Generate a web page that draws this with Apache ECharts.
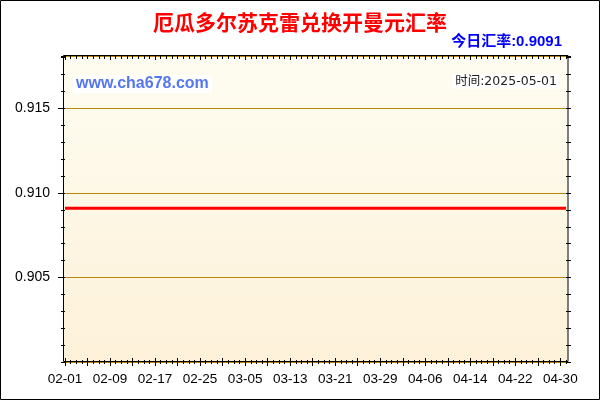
<!DOCTYPE html>
<html>
<head>
<meta charset="utf-8">
<script src="https://cdn.jsdelivr.net/npm/echarts@6/dist/echarts.min.js"></script>
<style>
html,body{margin:0;padding:0;background:#fff;}
#chart{width:600px;height:400px;}
</style>
</head>
<body>
<div id="chart"></div>
<script>
const dates = [
  '02-01','02-02','02-03','02-04','02-05','02-06','02-07','02-08','02-09','02-10',
  '02-11','02-12','02-13','02-14','02-15','02-16','02-17','02-18','02-19','02-20',
  '02-21','02-22','02-23','02-24','02-25','02-26','02-27','02-28',
  '03-01','03-02','03-03','03-04','03-05','03-06','03-07','03-08','03-09','03-10',
  '03-11','03-12','03-13','03-14','03-15','03-16','03-17','03-18','03-19','03-20',
  '03-21','03-22','03-23','03-24','03-25','03-26','03-27','03-28','03-29','03-30','03-31',
  '04-01','04-02','04-03','04-04','04-05','04-06','04-07','04-08','04-09','04-10',
  '04-11','04-12','04-13','04-14','04-15','04-16','04-17','04-18','04-19','04-20',
  '04-21','04-22','04-23','04-24','04-25','04-26','04-27','04-28','04-29','04-30',
  '05-01'
];
const rates = [
  0.9091,0.9091,0.9091,0.9091,0.9091,0.9091,0.9091,0.9091,0.9091,0.9091,
  0.9091,0.9091,0.9091,0.9091,0.9091,0.9091,0.9091,0.9091,0.9091,0.9091,
  0.9091,0.9091,0.9091,0.9091,0.9091,0.9091,0.9091,0.9091,
  0.9091,0.9091,0.9091,0.9091,0.9091,0.9091,0.9091,0.9091,0.9091,0.9091,
  0.9091,0.9091,0.9091,0.9091,0.9091,0.9091,0.9091,0.9091,0.9091,0.9091,
  0.9091,0.9091,0.9091,0.9091,0.9091,0.9091,0.9091,0.9091,0.9091,0.9091,0.9091,
  0.9091,0.9091,0.9091,0.9091,0.9091,0.9091,0.9091,0.9091,0.9091,0.9091,
  0.9091,0.9091,0.9091,0.9091,0.9091,0.9091,0.9091,0.9091,0.9091,0.9091,
  0.9091,0.9091,0.9091,0.9091,0.9091,0.9091,0.9091,0.9091,0.9091,0.9091,
  0.9091
];
const yMin = 0.900;
const yMax = 0.9181;
const yStep = 0.005;
const yMinorStep = 0.001;
const titleText = '厄瓜多尔苏克雷兑换开曼元汇率';
const siteText = 'www.cha678.com';
const timeText = '时间:2025-05-01';
const todayLabel = '今日汇率:';

const chart = echarts.init(document.getElementById('chart'), null, {renderer: 'canvas'});
const FONT = '"Liberation Sans", Arial, "Noto Sans CJK SC", sans-serif';
const CJK = '"Noto Sans CJK SC", "Liberation Sans", sans-serif';
const noLine = {show: false};
const hideLabel = {show: false};

function xAx(extra) {
  return Object.assign({
    type: 'category', data: dates, boundaryGap: false, gridIndex: 0,
    position: 'bottom', axisLine: noLine, axisLabel: hideLabel, splitLine: {show: false}
  }, extra);
}
function yAx(extra) {
  return Object.assign({
    type: 'value', min: yMin, max: yMax, gridIndex: 0, position: 'left',
    axisLine: noLine, axisLabel: hideLabel, splitLine: {show: false}
  }, extra);
}

const option = {
  animation: false,
  backgroundColor: '#ffffff',
  title: [
    {
      text: titleText, left: 'center', top: 12, padding: 0,
      textStyle: {color: '#FF0000', fontSize: 21, fontWeight: 'bold', fontFamily: CJK}
    },
    {
      text: todayLabel + rates[rates.length - 1].toFixed(4), right: 38, top: 34, padding: 0,
      textStyle: {color: '#0000FF', fontSize: 15, fontWeight: 'bold', fontFamily: FONT}
    },
    {
      text: siteText, left: 73, top: 75, padding: [1, 3, 1, 3], backgroundColor: '#ffffff',
      textStyle: {color: '#5577EE', fontSize: 16, fontWeight: 'bold', fontFamily: FONT}
    },
    {
      text: timeText, right: 40, top: 74, padding: [1, 3, 1, 3], backgroundColor: '#ffffff',
      textStyle: {color: '#222222', fontSize: 12.5, fontWeight: 'normal', fontFamily: '"DejaVu Sans", "Noto Sans CJK SC", sans-serif'}
    }
  ],
  grid: {left: 65, right: 34, top: 56, bottom: 38, containLabel: false},
  graphic: {
    elements: [
      {
        type: 'rect', z: -10, silent: true,
        shape: {x: 63.5, y: 55.5, width: 504.5, height: 306},
        style: {
          fill: {type: 'linear', x: 0, y: 0, x2: 0, y2: 1,
            colorStops: [{offset: 0, color: '#FEFDF1'}, {offset: 1, color: '#FDF1D9'}]},
          stroke: null
        }
      },
      {
        type: 'rect', z: 50, silent: true,
        shape: {x: 63.5, y: 55.5, width: 504.5, height: 306},
        style: {fill: 'transparent', stroke: '#000000', lineWidth: 1}
      },
      {
        type: 'rect', z: 50, silent: true,
        shape: {x: 0.5, y: 0.5, width: 599, height: 399},
        style: {fill: 'transparent', stroke: '#000000', lineWidth: 1}
      }
    ]
  },
  xAxis: [
    xAx({
      axisLabel: {
        show: true, interval: function (i) { return i % 8 === 0; },
        margin: 11, color: '#000000', fontSize: 13.5, fontFamily: FONT
      },
      axisTick: {show: true, interval: 0, length: 2, inside: false, lineStyle: {color: '#000', width: 1}}
    }),
    xAx({axisTick: {show: true, interval: 0, length: 2, inside: true, lineStyle: {color: '#000', width: 1}}}),
    xAx({axisTick: {show: true, interval: function (i) { return i % 4 === 0; }, length: 4, inside: false, lineStyle: {color: '#000', width: 1}}}),
    xAx({axisTick: {show: true, interval: function (i) { return i % 4 === 0; }, length: 4, inside: true, lineStyle: {color: '#000', width: 1}}}),
    xAx({position: 'top', axisTick: {show: true, interval: 0, length: 3, inside: true, lineStyle: {color: '#000', width: 1}}}),
    xAx({position: 'top', axisTick: {show: true, interval: function (i) { return i % 8 === 0; }, length: 4, inside: true, lineStyle: {color: '#000', width: 1}}})
  ],
  yAxis: [
    yAx({
      interval: yStep,
      axisLabel: {
        show: true, margin: 15, color: '#000000', fontSize: 14, fontFamily: FONT,
        showMinLabel: false, showMaxLabel: false,
        formatter: function (v) { return v.toFixed(3); }
      },
      axisTick: {show: true, length: 7, lineStyle: {color: '#000', width: 1}},
      splitLine: {show: true, lineStyle: {color: '#B8860B', width: 1}}
    }),
    yAx({interval: yMinorStep, axisTick: {show: true, length: 4, lineStyle: {color: '#000', width: 1}}}),
    yAx({position: 'right', interval: yMinorStep, axisTick: {show: true, length: 5, lineStyle: {color: '#000', width: 1}}})
  ],
  series: [
    {
      type: 'line', name: 'rate', data: rates, xAxisIndex: 0, yAxisIndex: 0,
      showSymbol: false, symbol: 'none', smooth: false, z: 5,
      lineStyle: {color: '#FF0000', width: 3}
    }
  ]
};
chart.setOption(option);
</script>
</body>
</html>
